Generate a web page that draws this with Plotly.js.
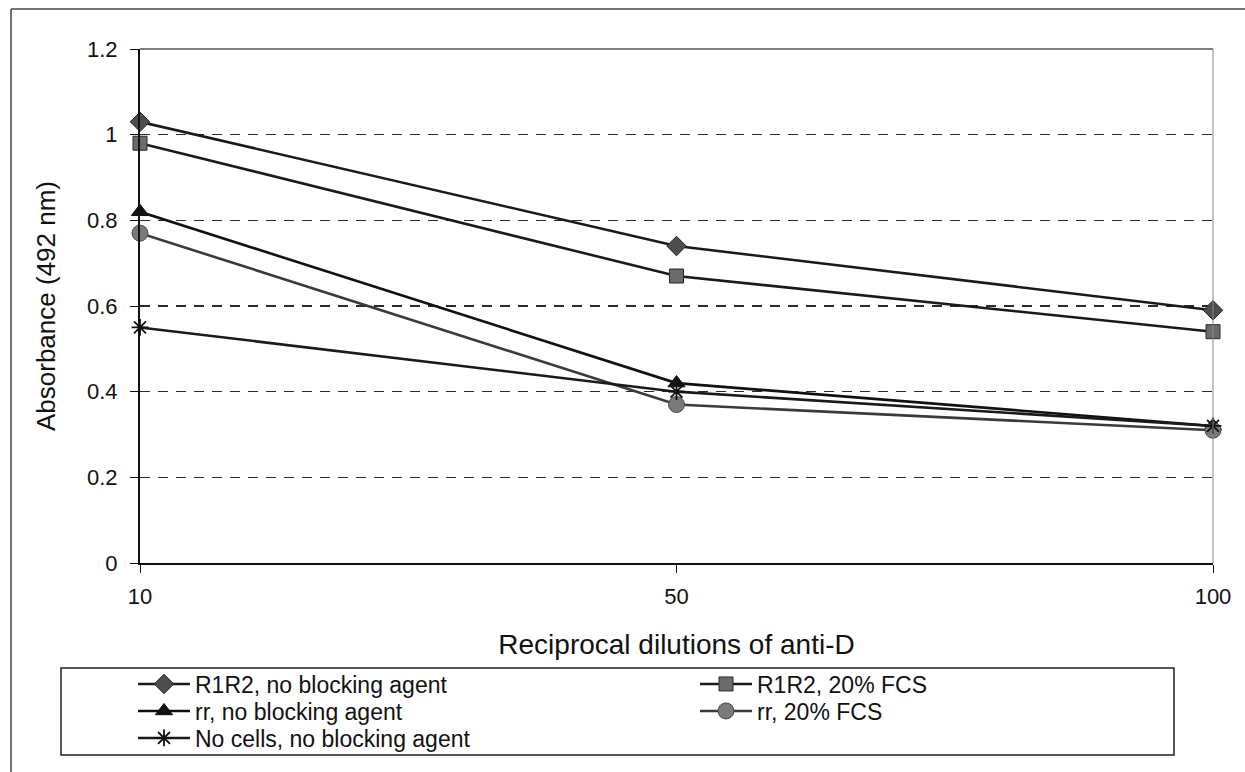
<!DOCTYPE html>
<html>
<head>
<meta charset="utf-8">
<script src="https://cdn.plot.ly/plotly-3.0.1.min.js"></script>
<style>
  html, body { margin: 0; padding: 0; background: #fff; }
  #chart { width: 1245px; height: 772px; }
</style>
</head>
<body>
<div id="chart"></div>
<script>
// Reciprocal dilutions of anti-D (category axis)
const dilutions = ['10', '50', '100'];

// Absorbance at 492 nm for each cell / blocking condition
const r1r2NoBlocking = [1.03, 0.74, 0.59];
const r1r2Fcs20      = [0.98, 0.67, 0.54];
const rrNoBlocking   = [0.82, 0.42, 0.32];
const rrFcs20        = [0.77, 0.37, 0.31];
const noCellsNoBlock = [0.55, 0.40, 0.32];

const seriesNames = [
  'R1R2, no blocking agent',
  'R1R2, 20% FCS',
  'rr, no blocking agent',
  'rr, 20% FCS',
  'No cells, no blocking agent'
];

const yTicks = [0, 0.2, 0.4, 0.6, 0.8, 1, 1.2];

// plot-area geometry in pixels, used to place frames and legend rows
const W = 1245, H = 772;
const M = { l: 140, r: 32, t: 49, b: 209 };
const pw = W - M.l - M.r, ph = H - M.t - M.b;
const px = x => (x - M.l) / pw;
const py = y => (H - M.b - y) / ph;

const FONT = 'Liberation Sans, Arial, Helvetica, sans-serif';

function trace(y, name, marker, lineColor, legendId) {
  return {
    type: 'scatter', mode: 'lines+markers',
    x: dilutions, y: y, name: name,
    line: { color: lineColor, width: 2.6 },
    marker: marker,
    cliponaxis: false,
    legend: legendId
  };
}

const data = [
  trace(r1r2NoBlocking, seriesNames[0],
    { symbol: 'diamond', size: 15, color: '#4d4d4d', line: { color: '#222', width: 1 } }, '#1a1a1a', 'legend'),
  trace(r1r2Fcs20, seriesNames[1],
    { symbol: 'square', size: 14, color: '#6b6b6b', line: { color: '#2a2a2a', width: 1 } }, '#1a1a1a', 'legend2'),
  trace(rrNoBlocking, seriesNames[2],
    { symbol: 'triangle-up', size: 15, color: '#111', line: { color: '#111', width: 1 } }, '#111111', 'legend3'),
  trace(rrFcs20, seriesNames[3],
    { symbol: 'circle', size: 16, color: '#7a7a7a', line: { color: '#4a4a4a', width: 1 } }, '#3a3a3a', 'legend4'),
  trace(noCellsNoBlock, seriesNames[4],
    { symbol: 'asterisk-open', size: 14, color: '#111', line: { color: '#111', width: 1.8 } }, '#1a1a1a', 'legend5')
];

function legendAt(xPix, yPix) {
  return {
    x: px(xPix), y: py(yPix), xanchor: 'left', yanchor: 'middle',
    orientation: 'v', bgcolor: 'rgba(0,0,0,0)', borderwidth: 0,
    itemwidth: 52, tracegroupgap: 0,
    font: { family: FONT, size: 23, color: '#111' }
  };
}

const col1 = 133, col2 = 695;
const row1 = 684, row2 = 711, row3 = 738;

const layout = {
  width: W, height: H,
  margin: M,
  paper_bgcolor: '#fff', plot_bgcolor: '#fff',
  font: { family: FONT, color: '#111' },
  xaxis: {
    type: 'category', range: [0, 2],
    showgrid: false, zeroline: false,
    showline: true, linecolor: '#111', linewidth: 2,
    ticks: 'outside', ticklen: 8, tickcolor: '#111', tickwidth: 1,
    ticklabelstandoff: 5,
    tickfont: { family: FONT, size: 22, color: '#111' },
    title: { text: 'Reciprocal dilutions of anti-D', standoff: 26,
             font: { family: FONT, size: 28, color: '#111' } },
    automargin: true
  },
  yaxis: {
    range: [0, 1.2], tickvals: yTicks,
    showgrid: true, gridcolor: '#2a2a2a', gridwidth: 1.4, griddash: '10px,8px',
    zeroline: false,
    showline: true, linecolor: '#111', linewidth: 2,
    ticks: 'outside', ticklen: 8, tickcolor: '#111', tickwidth: 1,
    ticklabelstandoff: 8,
    tickfont: { family: FONT, size: 22, color: '#111' },
    title: { text: 'Absorbance (492 nm)', standoff: 24,
             font: { family: FONT, size: 26, color: '#111' } },
    automargin: true
  },
  showlegend: true,
  legend:  legendAt(col1, row1),
  legend2: legendAt(col2, row1),
  legend3: legendAt(col1, row2),
  legend4: legendAt(col2, row2),
  legend5: legendAt(col1, row3),
  shapes: [
    // outer chart frame (left and top edges)
    { type: 'line', xref: 'paper', yref: 'paper',
      x0: px(11), x1: px(11), y0: py(H + 10), y1: py(9),
      line: { color: '#444', width: 1.5 } },
    { type: 'line', xref: 'paper', yref: 'paper',
      x0: px(11), x1: px(W + 10), y0: py(9), y1: py(9),
      line: { color: '#444', width: 1.5 } },
    // plot-area frame: top and right edges
    { type: 'line', xref: 'paper', yref: 'paper',
      x0: 0, x1: 1, y0: 1, y1: 1,
      line: { color: '#555', width: 1.6 } },
    { type: 'line', xref: 'paper', yref: 'paper',
      x0: 1, x1: 1, y0: 0, y1: 1,
      line: { color: '#888', width: 1 } },
    // legend box
    { type: 'rect', xref: 'paper', yref: 'paper',
      x0: px(61), x1: px(1174), y0: py(755), y1: py(668),
      line: { color: '#222', width: 1.5 }, fillcolor: 'rgba(0,0,0,0)' }
  ]
};

Plotly.newPlot('chart', data, layout, { displayModeBar: false, staticPlot: true });
</script>
</body>
</html>
